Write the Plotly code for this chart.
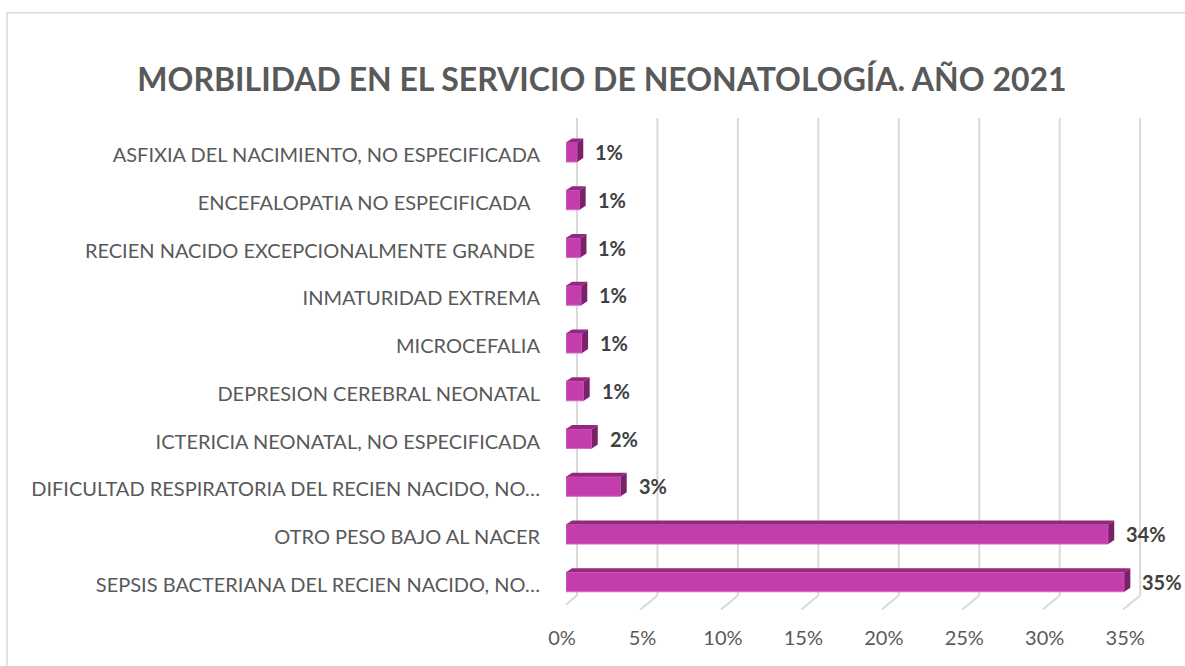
import plotly.graph_objects as go

# ---------------- data ----------------
categories = [
    "SEPSIS BACTERIANA DEL RECIEN NACIDO, NO…",
    "OTRO PESO BAJO AL NACER",
    "DIFICULTAD RESPIRATORIA DEL RECIEN NACIDO, NO…",
    "ICTERICIA NEONATAL, NO ESPECIFICADA",
    "DEPRESION CEREBRAL NEONATAL",
    "MICROCEFALIA",
    "INMATURIDAD EXTREMA",
    "RECIEN NACIDO EXCEPCIONALMENTE GRANDE\u00a0",
    "ENCEFALOPATIA NO ESPECIFICADA\u00a0\u00a0",
    "ASFIXIA DEL NACIMIENTO, NO ESPECIFICADA",
]
values = [0.347, 0.337, 0.034, 0.016, 0.011, 0.010, 0.0095, 0.009, 0.0085, 0.007]
tick_values = [0, 0.05, 0.10, 0.15, 0.20, 0.25, 0.30, 0.35]
tick_labels = ["0%", "5%", "10%", "15%", "20%", "25%", "30%", "35%"]
title_text = "MORBILIDAD EN EL SERVICIO DE NEONATOLOGÍA. AÑO 2021"

# ---------------- layout geometry ----------------
W, H = 1185, 666
ML, MR = 566, 24
PX_X = 1609.0           # pixels per unit of x (1.0 = 100%)
PX_Y = 47.7             # pixels per category
Y0_PX = 581.5           # pixel y of first category centre
YMIN, YMAX = -0.65, 9.8
MB = H - (Y0_PX - YMIN * PX_Y)
MT = Y0_PX - YMAX * PX_Y
XMAX = (W - ML - MR) / PX_X

def dx(px):
    return px / PX_X

def dy(px):
    return px / PX_Y

def py(pix):
    return (Y0_PX - pix) / PX_Y

FRONT = "#c43dac"
TOP = "#93287f"
SIDE = "#7a2169"
GRID = "#d9d9d9"
FONT = "Lato"

ypos = list(range(len(categories)))
half = 0.205

fig = go.Figure()
fig.add_trace(go.Bar(
    x=values, y=ypos, orientation="h", width=2 * half,
    marker=dict(color=FRONT, line=dict(color="#d866c4", width=1)),
    hoverinfo="skip",
))

shapes = []
# back-wall gridlines with floor diagonal
for t in tick_values:
    xb = t + dx(11)
    shapes.append(dict(type="line", xref="x", yref="y", layer="below",
                       x0=xb, x1=xb, y0=py(595), y1=py(118),
                       line=dict(color=GRID, width=2)))
    shapes.append(dict(type="line", xref="x", yref="y", layer="below",
                       x0=xb, x1=t - dx(6), y0=py(595), y1=py(609),
                       line=dict(color=GRID, width=2)))

# 3D faces of bars
ddx, ddy = dx(6), dy(4)
for yi, v in zip(ypos, values):
    top = (f"M {0},{yi + half} L {v},{yi + half} "
           f"L {v + ddx},{yi + half + ddy} L {ddx},{yi + half + ddy} Z")
    side = (f"M {v},{yi - half} L {v},{yi + half} "
            f"L {v + ddx},{yi + half + ddy} L {v + ddx},{yi - half + ddy} Z")
    shapes.append(dict(type="path", xref="x", yref="y", path=top,
                       fillcolor=TOP, line=dict(width=0), layer="above"))
    shapes.append(dict(type="path", xref="x", yref="y", path=side,
                       fillcolor=SIDE, line=dict(width=0), layer="above"))

# chart border
pw = W - ML - MR
ph = H - MT - MB
bx0 = (7 - ML) / pw
by1 = (H - MB - 13) / ph
shapes.append(dict(type="rect", xref="paper", yref="paper",
                   x0=bx0, x1=(W + 5 - ML) / pw, y0=-(MB + 5) / ph, y1=by1,
                   line=dict(color=GRID, width=1.5), layer="below"))

annotations = []
for yi, v in zip(ypos, values):
    annotations.append(dict(x=v, y=yi, xref="x", yref="y",
                            text=f"{round(v * 100)}%", showarrow=False,
                            xanchor="left", yanchor="middle", xshift=16,
                            font=dict(family=FONT, size=20, color="#404040",
                                      weight="bold")))

fig.update_layout(
    width=W, height=H,
    margin=dict(l=ML, r=MR, t=MT, b=MB, pad=0),
    paper_bgcolor="white", plot_bgcolor="white",
    showlegend=False,
    shapes=shapes,
    annotations=annotations,
    title=dict(text=f"<b>{title_text}</b>", x=602 / W, xanchor="center",
               y=1 - 80 / H, yanchor="middle",
               font=dict(family=FONT, size=32, color="#595959")),
    xaxis=dict(range=[0, XMAX], tickvals=tick_values, ticktext=tick_labels,
               showgrid=False, zeroline=False, showline=False,
               ticks="", ticklabelstandoff=11, ticklabelshift=-4,
               tickfont=dict(family=FONT, size=20, color="#595959")),
    yaxis=dict(range=[YMIN, YMAX], tickvals=ypos, ticktext=categories,
               showgrid=False, zeroline=False, showline=False,
               ticks="", ticklabelstandoff=25, ticklabelshift=3,
               tickfont=dict(family=FONT, size=20, color="#595959")),
)

fig.write_html("out.html",
               config={"displayModeBar": False, "staticPlot": True},
               post_script="document.body.style.margin='0';"
                           "document.body.style.overflow='hidden';")
